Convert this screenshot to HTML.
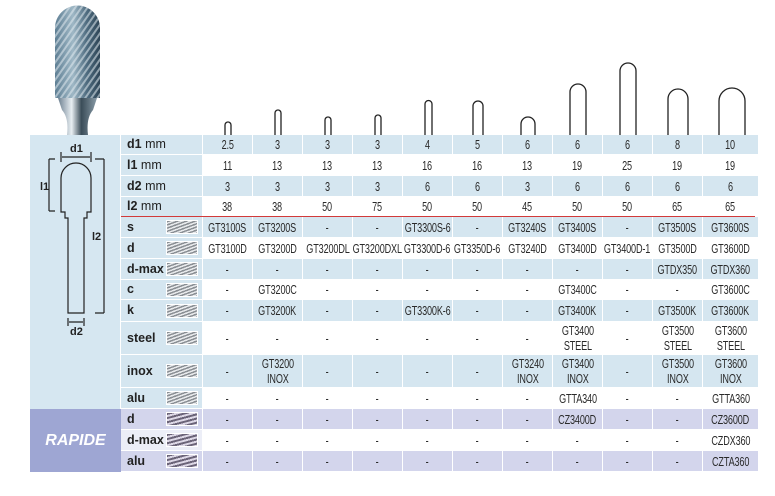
<!DOCTYPE html>
<html><head><meta charset="utf-8">
<style>
*{margin:0;padding:0;box-sizing:border-box}
body{width:775px;height:496px;background:#fff;position:relative;overflow:hidden;font-family:"Liberation Sans",sans-serif;color:#2a2a2a}
#g{position:absolute;left:121px;top:135px;display:grid;grid-template-columns:82px repeat(10,50px) 56px;grid-template-rows:20px 21px 21px 20px 21px 21px 21px 20px 22px 33px 33px 21px 21px 21px 21px}
#g div{border-right:1.5px solid #fff;border-bottom:1.5px solid #fff;display:flex;align-items:center;justify-content:center;text-align:center;font-size:13px;line-height:15px;white-space:nowrap;overflow:visible}
#g div>p{display:inline-block;transform:scaleX(.7);letter-spacing:-0.2px}
#g .b{background:#d5e6f0}
#g .w{background:#fff}
#g .p{background:#d3d5ec}
#g .l{justify-content:flex-start;padding-left:6px;font-weight:bold;font-size:12.5px;color:#222;position:relative;background:#d5e6f0}
#g .l span{font-weight:normal}
#g .l i{position:absolute;right:4px;top:50%;margin-top:-7px;width:32px;height:14px;border:1px solid #fff;background:repeating-linear-gradient(160deg,#8a8f94 0 1.5px,#e8eaec 1.5px 3px)}
#g .lp{background:#d3d5ec}
#g .lp2{background:#eceef7}
#g .lp i,#g .lp2 i{background:repeating-linear-gradient(165deg,#6b6478 0 2px,#ddd8e6 2px 4px)}
#red{position:absolute;left:121px;top:216px;width:634px;height:1px;background:#d23a3a}
#lp{position:absolute;left:30px;top:135px;width:91px;height:274px;background:#d6e7f1;border-right:1.5px solid #fff}
#rp{position:absolute;left:30px;top:409px;width:91px;height:63px;background:#9ea6d3;color:#fff;font-weight:bold;font-style:italic;font-size:16px;display:flex;align-items:center;justify-content:center}
</style></head><body>
<svg width="775" height="135" style="position:absolute;left:0;top:0">
<defs>
<linearGradient id="hd" x1="0" x2="1"><stop offset="0" stop-color="#5f7f94"/><stop offset=".4" stop-color="#9fb8c6"/><stop offset=".7" stop-color="#4f6c80"/><stop offset="1" stop-color="#2e4556"/></linearGradient>
<linearGradient id="nk" x1="0" x2="1"><stop offset="0" stop-color="#6c8090"/><stop offset=".35" stop-color="#e8eef2"/><stop offset=".6" stop-color="#3a4c58"/><stop offset="1" stop-color="#8a9ca8"/></linearGradient>
<pattern id="fl" width="5" height="5" patternUnits="userSpaceOnUse" patternTransform="rotate(35)"><rect width="2" height="5" fill="#dfe9ee" opacity=".55"/></pattern>
</defs>
<path d="M55 98 V28 A22.5 22.5 0 0 1 100 28 V98 Z" fill="url(#hd)"/>
<path d="M55 98 V28 A22.5 22.5 0 0 1 100 28 V98 Z" fill="url(#fl)"/>
<path d="M58 98 H97 L93 110 Q86 118 88 135 H67 Q69 118 62 110 Z" fill="url(#nk)"/>
<g fill="none" stroke="#222" stroke-width="1.3">
<path d="M225 135 V170 H231 V135 M225 170 V125 A3 3 0 0 1 231 125 V170"/>
<path d="M275 135 V171 H281 V135 M275 171 V113 A3 3 0 0 1 281 113 V171"/>
<path d="M325 135 V171 H331 V135 M325 171 V120 A3 3 0 0 1 331 120 V171"/>
<path d="M375 135 V171 H381 V135 M375 171 V118 A3 3 0 0 1 381 118 V171"/>
<path d="M424 135 V167 H432 V135 M425 167 V104 A3.5 3.5 0 0 1 432 104 V167"/>
<path d="M473 135 V170 H483 V135 M473 170 V106 A5 5 0 0 1 483 106 V170"/>
<path d="M525 135 V180 H531 V135 M524 180 V175 H532 V180 M521 175 V124 A7 7 0 0 1 535 124 V175"/>
<path d="M570 135 V170 H586 V135 M570 170 V92 A8 8 0 0 1 586 92 V170"/>
<path d="M620 135 V170 H636 V135 M620 170 V71 A8 8 0 0 1 636 71 V170"/>
<path d="M670 135 V170 H686 V135 M668 170 V99 A10 10 0 0 1 688 99 V170"/>
<path d="M725 135 V158 H739 V135 M723 158 V152 H741 V158 M719 152 V101 A13 13 0 0 1 745 101 V152"/>
</g>
</svg>
<div id="lp">
<svg width="91" height="274" style="position:absolute;left:-30px;top:-135px;overflow:visible">
<g fill="none" stroke="#222" stroke-width="1.2">
<path d="M61 162 V152 M91 162 V152 M62 157 H90"/>
<path d="M61 212 V178 A15 15 0 0 1 91 178 V212 H87 V218 H84 V313 H68 V218 H65 V212 Z"/>
<path d="M55 159 H49 M49 159 V211 M55 211 H49"/>
<path d="M95 159 H104 M104 159 V313 M95 313 H104"/>
<path d="M68 318 V326 M84 318 V326 M69 322 H83"/>
</g>
<g font-family="Liberation Sans,sans-serif" font-size="11" font-weight="bold" fill="#222">
<text x="70" y="152">d1</text>
<text x="40" y="190">l1</text>
<text x="92" y="240">l2</text>
<text x="70" y="335">d2</text>
</g>
</svg>
</div>
<div id="rp">RAPIDE</div>
<div id="g">
<div class="l">d1 <span>&nbsp;mm</span></div><div class="b"><p>2.5</p></div><div class="b"><p>3</p></div><div class="b"><p>3</p></div><div class="b"><p>3</p></div><div class="b"><p>4</p></div><div class="b"><p>5</p></div><div class="b"><p>6</p></div><div class="b"><p>6</p></div><div class="b"><p>6</p></div><div class="b"><p>8</p></div><div class="b"><p>10</p></div>
<div class="l">l1 <span>&nbsp;mm</span></div><div class="w"><p>11</p></div><div class="w"><p>13</p></div><div class="w"><p>13</p></div><div class="w"><p>13</p></div><div class="w"><p>16</p></div><div class="w"><p>16</p></div><div class="w"><p>13</p></div><div class="w"><p>19</p></div><div class="w"><p>25</p></div><div class="w"><p>19</p></div><div class="w"><p>19</p></div>
<div class="l">d2 <span>&nbsp;mm</span></div><div class="b"><p>3</p></div><div class="b"><p>3</p></div><div class="b"><p>3</p></div><div class="b"><p>3</p></div><div class="b"><p>6</p></div><div class="b"><p>6</p></div><div class="b"><p>3</p></div><div class="b"><p>6</p></div><div class="b"><p>6</p></div><div class="b"><p>6</p></div><div class="b"><p>6</p></div>
<div class="l">l2 <span>&nbsp;mm</span></div><div class="w"><p>38</p></div><div class="w"><p>38</p></div><div class="w"><p>50</p></div><div class="w"><p>75</p></div><div class="w"><p>50</p></div><div class="w"><p>50</p></div><div class="w"><p>45</p></div><div class="w"><p>50</p></div><div class="w"><p>50</p></div><div class="w"><p>65</p></div><div class="w"><p>65</p></div>
<div class="l">s<i></i></div><div class="b"><p>GT3100S</p></div><div class="b"><p>GT3200S</p></div><div class="b"><p>-</p></div><div class="b"><p>-</p></div><div class="b"><p>GT3300S-6</p></div><div class="b"><p>-</p></div><div class="b"><p>GT3240S</p></div><div class="b"><p>GT3400S</p></div><div class="b"><p>-</p></div><div class="b"><p>GT3500S</p></div><div class="b"><p>GT3600S</p></div>
<div class="l">d<i></i></div><div class="w"><p>GT3100D</p></div><div class="w"><p>GT3200D</p></div><div class="w"><p>GT3200DL</p></div><div class="w"><p>GT3200DXL</p></div><div class="w"><p>GT3300D-6</p></div><div class="w"><p>GT3350D-6</p></div><div class="w"><p>GT3240D</p></div><div class="w"><p>GT3400D</p></div><div class="w"><p>GT3400D-1</p></div><div class="w"><p>GT3500D</p></div><div class="w"><p>GT3600D</p></div>
<div class="l">d-max<i></i></div><div class="b"><p>-</p></div><div class="b"><p>-</p></div><div class="b"><p>-</p></div><div class="b"><p>-</p></div><div class="b"><p>-</p></div><div class="b"><p>-</p></div><div class="b"><p>-</p></div><div class="b"><p>-</p></div><div class="b"><p>-</p></div><div class="b"><p>GTDX350</p></div><div class="b"><p>GTDX360</p></div>
<div class="l">c<i></i></div><div class="w"><p>-</p></div><div class="w"><p>GT3200C</p></div><div class="w"><p>-</p></div><div class="w"><p>-</p></div><div class="w"><p>-</p></div><div class="w"><p>-</p></div><div class="w"><p>-</p></div><div class="w"><p>GT3400C</p></div><div class="w"><p>-</p></div><div class="w"><p>-</p></div><div class="w"><p>GT3600C</p></div>
<div class="l">k<i></i></div><div class="b"><p>-</p></div><div class="b"><p>GT3200K</p></div><div class="b"><p>-</p></div><div class="b"><p>-</p></div><div class="b"><p>GT3300K-6</p></div><div class="b"><p>-</p></div><div class="b"><p>-</p></div><div class="b"><p>GT3400K</p></div><div class="b"><p>-</p></div><div class="b"><p>GT3500K</p></div><div class="b"><p>GT3600K</p></div>
<div class="l">steel<i></i></div><div class="w"><p>-</p></div><div class="w"><p>-</p></div><div class="w"><p>-</p></div><div class="w"><p>-</p></div><div class="w"><p>-</p></div><div class="w"><p>-</p></div><div class="w"><p>-</p></div><div class="w"><p>GT3400<br>STEEL</p></div><div class="w"><p>-</p></div><div class="w"><p>GT3500<br>STEEL</p></div><div class="w"><p>GT3600<br>STEEL</p></div>
<div class="l">inox<i></i></div><div class="b"><p>-</p></div><div class="b"><p>GT3200<br>INOX</p></div><div class="b"><p>-</p></div><div class="b"><p>-</p></div><div class="b"><p>-</p></div><div class="b"><p>-</p></div><div class="b"><p>GT3240<br>INOX</p></div><div class="b"><p>GT3400<br>INOX</p></div><div class="b"><p>-</p></div><div class="b"><p>GT3500<br>INOX</p></div><div class="b"><p>GT3600<br>INOX</p></div>
<div class="l">alu<i></i></div><div class="w"><p>-</p></div><div class="w"><p>-</p></div><div class="w"><p>-</p></div><div class="w"><p>-</p></div><div class="w"><p>-</p></div><div class="w"><p>-</p></div><div class="w"><p>-</p></div><div class="w"><p>GTTA340</p></div><div class="w"><p>-</p></div><div class="w"><p>-</p></div><div class="w"><p>GTTA360</p></div>
<div class="l lp">d<i></i></div><div class="p"><p>-</p></div><div class="p"><p>-</p></div><div class="p"><p>-</p></div><div class="p"><p>-</p></div><div class="p"><p>-</p></div><div class="p"><p>-</p></div><div class="p"><p>-</p></div><div class="p"><p>CZ3400D</p></div><div class="p"><p>-</p></div><div class="p"><p>-</p></div><div class="p"><p>CZ3600D</p></div>
<div class="l lp2">d-max<i></i></div><div class="w"><p>-</p></div><div class="w"><p>-</p></div><div class="w"><p>-</p></div><div class="w"><p>-</p></div><div class="w"><p>-</p></div><div class="w"><p>-</p></div><div class="w"><p>-</p></div><div class="w"><p>-</p></div><div class="w"><p>-</p></div><div class="w"><p>-</p></div><div class="w"><p>CZDX360</p></div>
<div class="l lp">alu<i></i></div><div class="p"><p>-</p></div><div class="p"><p>-</p></div><div class="p"><p>-</p></div><div class="p"><p>-</p></div><div class="p"><p>-</p></div><div class="p"><p>-</p></div><div class="p"><p>-</p></div><div class="p"><p>-</p></div><div class="p"><p>-</p></div><div class="p"><p>-</p></div><div class="p"><p>CZTA360</p></div>
</div>
<div id="red"></div>
</body></html>
